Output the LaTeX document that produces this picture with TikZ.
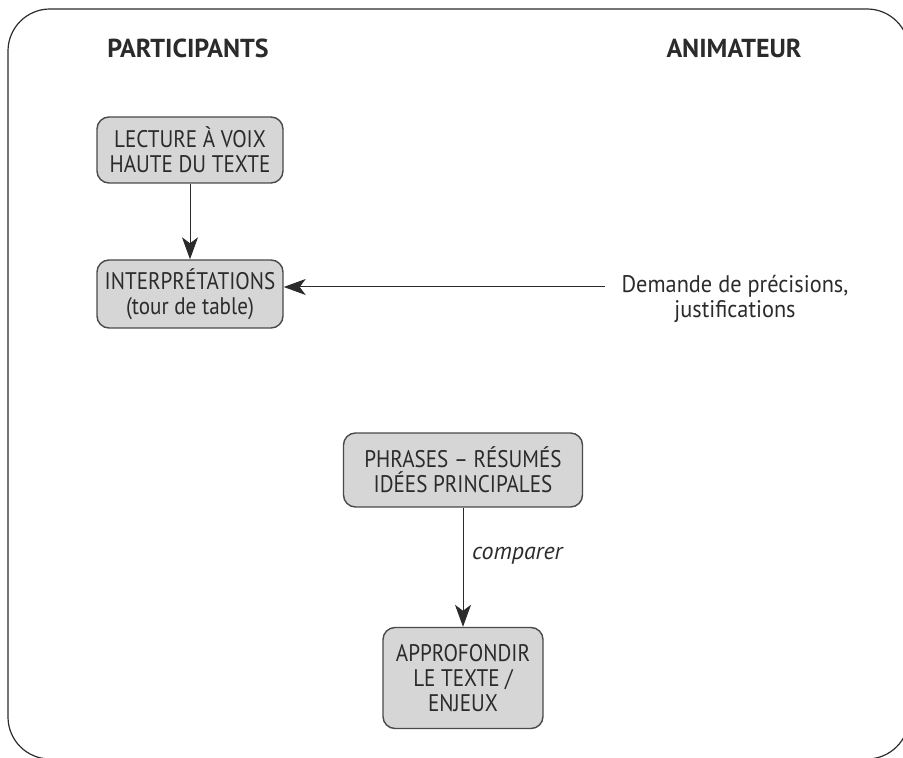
\documentclass[tikz,border=0pt]{standalone}
\usepackage{fontspec}
\setmainfont{PT Sans}
\newfontfamily\stagefont{PT Sans}[FakeStretch=0.88]
\newfontfamily\notefont{PT Sans}[FakeStretch=0.93]
\usepackage{xcolor}
\usepackage{tikz}
\usetikzlibrary{arrows.meta}

\definecolor{boxfill}{HTML}{D6D6D6}
\definecolor{boxline}{HTML}{4A4A4A}
\definecolor{inkgray}{HTML}{2B2B2B}

\begin{document}
\begin{tikzpicture}[x=0.5pt,y=-0.5pt,
        stagebox/.style={draw=boxline, line width=0.7pt, fill=boxfill, rounded corners=6pt,
            align=center, text=inkgray, inner sep=0pt, font=\stagefont\fontsize{12}{12.5}\selectfont},
        header/.style={text=inkgray, font=\fontsize{13}{15}\selectfont\bfseries},
        flow/.style={-{Stealth[length=11pt,width=8pt,inset=3pt]}, draw=inkgray, line width=0.5pt}]
        \useasboundingbox (0,0) rectangle (903,758);

        % Draw frame
        \draw[inkgray, line width=0.6pt, rounded corners=21pt] (8,9) rectangle (909,759);

        % Column titles
        \node[header] (participants) at (188,48) {PARTICIPANTS};
        \node[header] (animateur) at (734,48) {ANIMATEUR};

        % Participant stages
        \node[stagebox, minimum width=93pt, minimum height=33pt] (lecture) at (190,150)
            {LECTURE À VOIX\\HAUTE DU TEXTE};
        \node[stagebox, minimum width=93pt, minimum height=34pt] (interp) at (190,294)
            {INTERPRÉTATIONS\\(tour de table)};
        \node[stagebox, minimum width=119.5pt, minimum height=37pt] (phrases) at (463,470)
            {PHRASES – RÉSUMÉS\\IDÉES PRINCIPALES};
        \node[stagebox, minimum width=80pt, minimum height=50.5pt] (approf) at (463,678)
            {APPROFONDIR\\LE TEXTE /\\ENJEUX};

        % Animator request
        \node[align=center, text=inkgray, font=\notefont\fontsize{12}{12.5}\selectfont] (demande) at (735,299)
            {Demande de précisions,\\justifications};
        \coordinate (askstart) at (605,287);

        % Draw arrows
        \draw[flow] (lecture) -- (interp);
        \draw[flow] (askstart) -- (askstart -| interp.east);
        \draw[flow] (phrases) -- node[pos=0.4, right=1pt, text=inkgray,
            font=\fontsize{12}{12.5}\selectfont\itshape] (comparer) {comparer} (approf);
    \end{tikzpicture}
\end{document}
